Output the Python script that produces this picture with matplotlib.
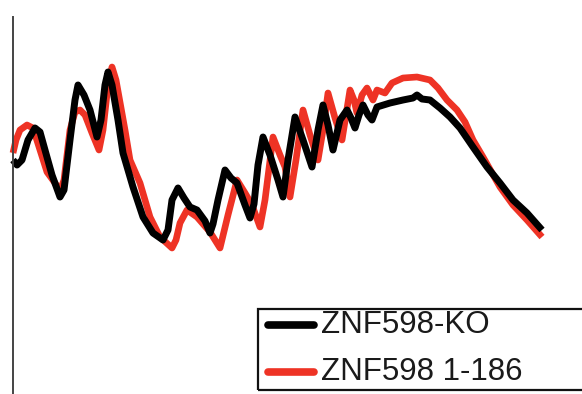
import matplotlib
matplotlib.use("Agg")
import matplotlib.pyplot as plt
from matplotlib.patches import Rectangle
from matplotlib.lines import Line2D

# Elution position and signal for the two samples
ko_pos = [13, 17, 22, 28, 35, 40, 45, 52, 60, 64, 70, 75, 78, 84, 90, 97, 101, 105, 108,
          112, 118, 123, 133, 143, 153, 163, 168, 172, 178, 184, 190, 197, 205, 210, 213,
          218, 225, 231, 237, 245, 250, 254, 258, 263, 270, 278, 283, 288, 295, 303, 312,
          318, 323, 328, 333, 340, 347, 351, 355, 359, 363, 368, 372, 377, 390, 403, 413,
          417, 422, 430, 440, 450, 460, 473, 487, 500, 513, 527, 542]
ko_signal = [234, 229, 234, 254, 266, 262, 244, 219, 197, 204, 254, 294, 309, 299, 284, 257,
             274, 309, 322, 309, 274, 241, 207, 177, 161, 154, 164, 194, 206, 196, 187, 184,
             173, 161, 170, 194, 224, 216, 211, 189, 176, 190, 229, 257, 239, 214, 197, 234,
             277, 254, 227, 264, 289, 269, 244, 274, 284, 276, 266, 279, 289, 279, 274, 287,
             291, 294, 296, 299, 295, 294, 286, 277, 266, 247, 227, 211, 194, 181, 164]

mut_pos = [13, 16, 20, 27, 33, 40, 47, 55, 60, 64, 70, 75, 80, 85, 92, 99, 103, 108, 112,
           116, 125, 130, 140, 150, 160, 172, 176, 180, 187, 197, 210, 220, 228, 237, 245,
           252, 260, 265, 273, 280, 285, 290, 296, 303, 310, 318, 323, 328, 335, 342, 346,
           350, 354, 357, 362, 367, 373, 377, 385, 392, 403, 417, 430, 438, 447, 457, 465,
           473, 483, 500, 513, 527, 542]
mut_signal = [241, 254, 264, 269, 266, 244, 222, 211, 203, 214, 264, 282, 284, 279, 261, 244,
              264, 309, 327, 314, 264, 234, 211, 177, 157, 146, 154, 171, 184, 177, 162, 146,
              179, 214, 201, 189, 167, 194, 257, 239, 227, 197, 234, 284, 259, 234, 264, 301,
              276, 254, 279, 304, 294, 281, 299, 306, 294, 304, 301, 311, 316, 317, 314, 306,
              294, 284, 272, 254, 237, 207, 189, 174, 157]

labels = ["ZNF598-KO", "ZNF598 1-186"]
colors = ["#000000", "#EE3325"]

W, H = 582, 394
fig = plt.figure(figsize=(W / 100, H / 100), dpi=100)
ax = fig.add_axes([13 / W, 0, 1 - 13 / W, 1 - 17 / H])
ax.set_xlim(13, 582)
ax.set_ylim(0, 377)

ax.plot(mut_pos, mut_signal, color=colors[1], lw=4.8, solid_joinstyle="round",
        solid_capstyle="butt", clip_on=False)
ax.plot(ko_pos, ko_signal, color=colors[0], lw=5.0, solid_joinstyle="round",
        solid_capstyle="butt", clip_on=False)

for side in ["top", "right", "bottom"]:
    ax.spines[side].set_visible(False)
ax.spines["left"].set_color("#444444")
ax.spines["left"].set_linewidth(1.4)
ax.set_xticks([])
ax.set_yticks([])


def fx(px):
    return px / W


def fy(py):
    return 1 - py / H


# Legend box, running off the right edge
fig.patches.append(Rectangle((fx(258), fy(390)), fx(700) - fx(258), fy(309) - fy(390),
                             transform=fig.transFigure, fill=False, edgecolor="#111111",
                             linewidth=1.6, clip_on=False))
for label, color, py in zip(labels, colors, [325, 372]):
    fig.lines.append(Line2D([fx(268), fx(314)], [fy(py), fy(py)], transform=fig.transFigure,
                            color=color, lw=5.5, solid_capstyle="round"))
    fig.text(fx(321), fy(py), label, fontsize=22.5, family="Liberation Sans",
             color="#1a1a1a", va="center", ha="left")

fig.savefig("out.png", dpi=100)
